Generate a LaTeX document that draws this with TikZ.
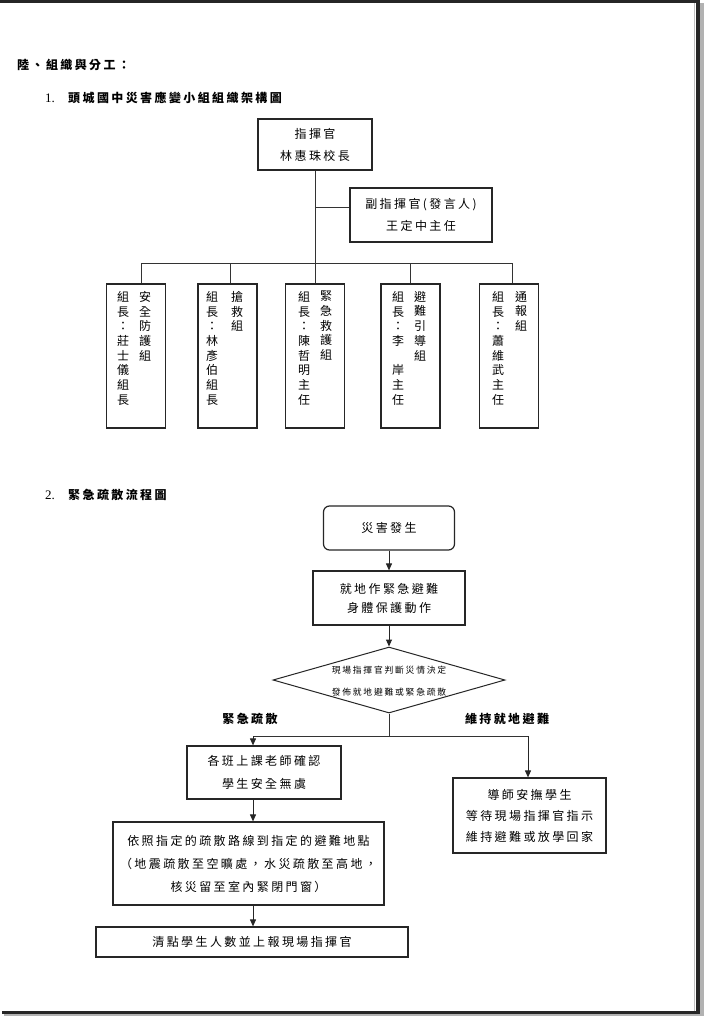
\documentclass[tikz,border=0pt]{standalone}
\usepackage{fontspec}
\setmainfont{Noto Sans CJK TC}[LetterSpace=20]
\newfontfamily\latinf{Liberation Serif}
\usetikzlibrary{shapes.geometric,arrows.meta}
\begin{document}
\begin{tikzpicture}[x=1pt,y=-1pt,
  box/.style={draw=black!85, line width=1.2pt, inner sep=0pt, align=center, font=\fontsize{12}{22}\selectfont},
  gbox/.style={draw=black!85, line width=1.2pt, inner sep=0pt, minimum width=59pt, minimum height=144pt},
  conn/.style={draw=black!80, line width=1pt},
  arr/.style={draw=black!85, line width=1pt, -{Triangle[length=7pt,width=6pt]}},
  col/.style={inner sep=0pt, align=center, anchor=north, font=\fontsize{12}{14.7}\selectfont},
  head/.style={inner sep=0pt, anchor=west, font=\fontsize{12}{14}\selectfont\bfseries},
  num/.style={inner sep=0pt, anchor=west, font=\latinf\fontsize{13}{14}\selectfont},
  lab/.style={inner sep=0pt, font=\fontsize{12}{14}\selectfont\bfseries}]
\useasboundingbox (0,0) rectangle (704,1016);
\fill[white] (0,0) rectangle (704,1016);
% page frame
\fill[black!85] (0,0) rectangle (700,3.5);
\fill[black!85] (696,0) rectangle (700,1014);
\fill[black!85] (2,1011) rectangle (700,1014);
\fill[black!30] (700,3) rectangle (704,1016);
\fill[black!30] (4,1014) rectangle (704,1016);
\draw[black!25, line width=0.8pt] (694.5,3.5) -- (694.5,1011);

% headings
\node[head] (h0) at (17,65) {陸、組織與分工：};
\node[num] (n1) at (45,98) {1.};
\node[head] (h1) at (68,98) {頭城國中災害應變小組組織架構圖};
\node[num] (n2) at (45,495) {2.};
\node[head] (h2) at (68,495) {緊急疏散流程圖};

% org chart
\node[box, minimum width=114pt, minimum height=51pt] (cmd) at (315,144.5) {指揮官\\林惠珠校長};
\node[box, minimum width=142pt, minimum height=54pt] (dep) at (421,215) {副指揮官(發言人)\\王定中主任};
\coordinate (bus) at (0,263);
\coordinate (depj) at ([yshift=7pt]dep.west);
\draw[conn] (cmd.south) -- (cmd.south |- bus);
\draw[conn] (cmd.south |- depj) -- (depj);

\node[gbox] (g1) at (136,356) {};
\node[gbox] (g2) at (227.5,356) {};
\node[gbox] (g3) at (315,356) {};
\node[gbox] (g4) at (410.5,356) {};
\node[gbox] (g5) at (509,356) {};

\draw[conn] ([xshift=5pt]g1.north |- bus) -- ([xshift=3pt]g5.north |- bus);
\draw[conn] ([xshift=5pt]g1.north) -- ([xshift=5pt]g1.north |- bus);
\draw[conn] ([xshift=3pt]g2.north) -- ([xshift=3pt]g2.north |- bus);
\draw[conn] (g3.north) -- (g3.north |- bus);
\draw[conn] (g4.north) -- (g4.north |- bus);
\draw[conn] ([xshift=3pt]g5.north) -- ([xshift=3pt]g5.north |- bus);

\node[col] (g1r) at (145,291) {安\\全\\防\\護\\組};
\node[col] (g1l) at (123,291) {組\\長\\：\\莊\\士\\儀\\組\\長};
\node[col] (g2r) at (237,291) {搶\\救\\組};
\node[col] (g2l) at (212,291) {組\\長\\：\\林\\彥\\伯\\組\\長};
\node[col] (g3r) at (326,291) {緊\\急\\救\\護\\組};
\node[col] (g3l) at (304,291) {組\\長\\：\\陳\\哲\\明\\主\\任};
\node[col] (g4r) at (420,291) {避\\難\\引\\導\\組};
\node[col] (g4l) at (398,291) {組\\長\\：\\李\\　\\岸\\主\\任};
\node[col] (g5r) at (521,291) {通\\報\\組};
\node[col] (g5l) at (498,291) {組\\長\\：\\蕭\\維\\武\\主\\任};

% flow chart
\node[box, rounded corners=6pt, minimum width=131pt, minimum height=44pt] (start) at (389,528) {災害發生};
\node[box, minimum width=152pt, minimum height=54pt, font=\fontsize{12}{19}\selectfont] (act) at (389,598) {就地作緊急避難\\身體保護動作};
\node[diamond, draw=black!85, line width=1pt, minimum width=232pt, minimum height=66pt, inner sep=0pt] (dec) at (389,680) {};
\node[inner sep=0pt, align=center, font=\fontsize{8.8}{22}\selectfont] (dect) at (389,681) {現場指揮官判斷災情決定\\發佈就地避難或緊急疏散};
\draw[arr] (start) -- (act);
\draw[arr] (act) -- (dec);

\node[lab] (labL) at (250,719) {緊急疏散};
\node[lab] (labR) at (507,719) {維持就地避難};

\coordinate (split) at (389,736);
\coordinate (lx) at (253,736);
\coordinate (rx) at (528,736);

\node[box, minimum width=154pt, minimum height=53pt, font=\fontsize{12}{23}\selectfont] (b1) at (264,772.5) {各班上課老師確認\\學生安全無虞};
\node[box, minimum width=153pt, minimum height=75pt, font=\fontsize{12}{21}\selectfont] (b2) at (529.5,815.5) {導師安撫學生\\等待現場指揮官指示\\維持避難或放學回家};
\node[box, minimum width=271pt, minimum height=83pt, font=\fontsize{12}{23}\selectfont] (b3) at (248.5,863.5) {依照指定的疏散路線到指定的避難地點\\（地震疏散至空曠處，水災疏散至高地，\\核災留至室內緊閉門窗）};
\node[box, minimum width=312pt, minimum height=30pt] (b4) at (252,942) {清點學生人數並上報現場指揮官};

\draw[conn] (dec.south) -- (split);
\draw[conn] (lx) -- (rx);
\draw[arr] (lx) -- (b1.north -| lx);
\draw[arr] (rx) -- (b2.north -| rx);
\draw[arr] (b1.south -| lx) -- (b3.north -| lx);
\draw[arr] (b3.south -| lx) -- (b4.north -| lx);
\end{tikzpicture}
\end{document}
